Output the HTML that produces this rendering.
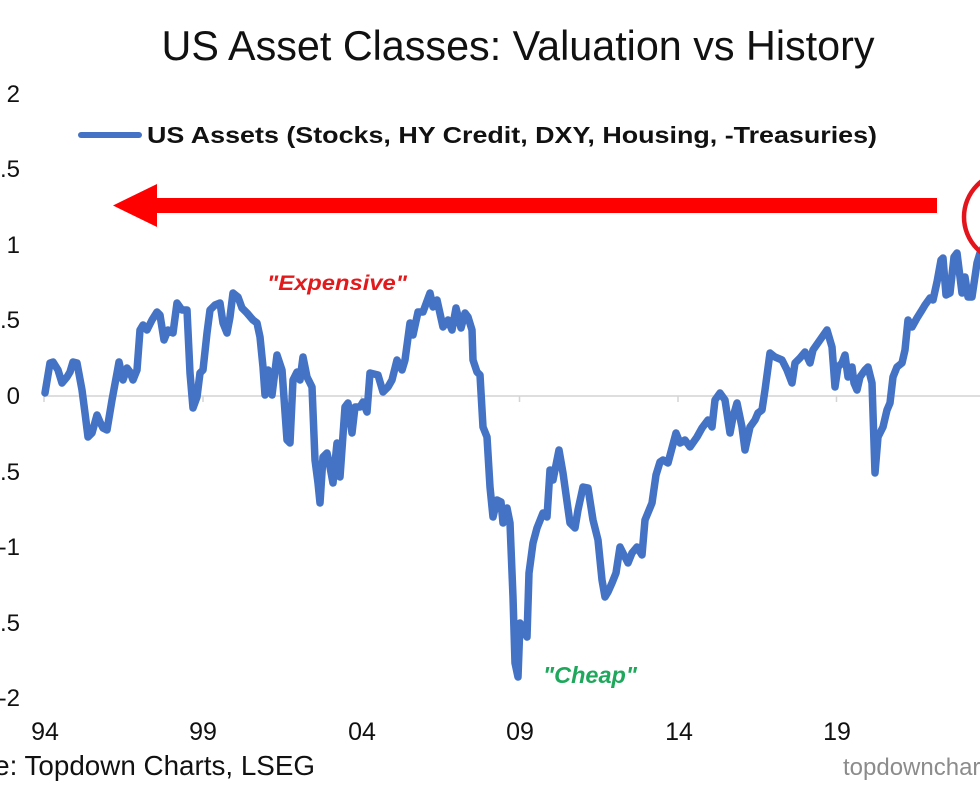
<!DOCTYPE html>
<html>
<head>
<meta charset="utf-8">
<style>
html,body{margin:0;padding:0;background:#fff;}
body{width:980px;height:810px;overflow:hidden;}
svg{display:block;}
text{font-family:"Liberation Sans",Arial,sans-serif;}
</style>
</head>
<body>
<svg width="980" height="810" viewBox="0 0 980 810" xmlns="http://www.w3.org/2000/svg">
<rect width="980" height="810" fill="#fff"/>
<!-- Title -->
<text x="518" y="60" font-size="42" fill="#111" text-anchor="middle" textLength="713" lengthAdjust="spacingAndGlyphs">US Asset Classes: Valuation vs History</text>
<!-- Legend -->
<line x1="81" y1="135" x2="139" y2="135" stroke="#4472c4" stroke-width="6" stroke-linecap="round"/>
<text x="147" y="143" font-size="23" font-weight="bold" fill="#111" textLength="730" lengthAdjust="spacingAndGlyphs">US Assets (Stocks, HY Credit, DXY, Housing, -Treasuries)</text>
<!-- Y labels -->
<g font-size="24" fill="#111" text-anchor="end">
<text x="20" y="102">2</text>
<text x="20" y="177">1.5</text>
<text x="20" y="253">1</text>
<text x="20" y="328">0.5</text>
<text x="20" y="404">0</text>
<text x="20" y="480">-0.5</text>
<text x="20" y="555">-1</text>
<text x="20" y="631">-1.5</text>
<text x="20" y="706">-2</text>
</g>
<!-- zero line + ticks -->
<line x1="44" y1="396" x2="980" y2="396" stroke="#d4d4d4" stroke-width="1.5"/>
<g stroke="#d4d4d4" stroke-width="1.5">
<line x1="44" y1="396" x2="44" y2="402"/>
<line x1="203" y1="396" x2="203" y2="402"/>
<line x1="361.5" y1="396" x2="361.5" y2="402"/>
<line x1="519.5" y1="396" x2="519.5" y2="402"/>
<line x1="678" y1="396" x2="678" y2="402"/>
<line x1="836.5" y1="396" x2="836.5" y2="402"/>
</g>
<!-- X labels -->
<g font-size="25" fill="#111" text-anchor="middle">
<text x="45" y="740">94</text>
<text x="203" y="740">99</text>
<text x="362" y="740">04</text>
<text x="520" y="740">09</text>
<text x="679" y="740">14</text>
<text x="837" y="740">19</text>
</g>
<!-- Series -->
<polyline fill="none" stroke="#4472c4" stroke-width="7.5" stroke-linejoin="round" stroke-linecap="round" points="45,393 50,363 53,362 58,370 62,383 67,377 70,372 73,362 77,363 82,390 85,413 88,437 92,433 97,415 100,422 103,428 107,430 112,400 117,373 119,362 123,380 127,368 130,372 133,380 137,370 140,330 143,325 147,330 152,320 157,312 160,315 164,340 168,330 173,333 177,303 182,310 187,310 190,373 193,408 197,397 200,373 203,370 207,333 210,310 215,305 220,303 223,323 227,333 230,317 233,293 238,297 242,308 247,313 253,320 257,323 260,337 263,367 265,395 268,370 272,395 277,355 282,370 287,440 290,443 293,380 297,372 300,380 303,357 307,377 312,387 315,460 318,483 320,503 323,457 327,453 330,467 333,483 337,443 340,477 345,407 348,403 352,433 355,407 360,407 363,402 367,412 370,373 378,375 383,392 388,387 392,380 397,360 402,370 405,360 410,323 413,335 418,312 423,312 430,293 433,307 437,300 443,327 448,320 452,330 456,308 461,328 465,313 468,317 472,330 473,360 477,372 480,375 483,427 487,437 490,487 493,517 497,500 501,502 503,523 507,508 510,523 513,597 515,663 518,677 520,623 523,627 527,637 529,573 533,543 537,528 543,513 547,517 550,470 553,480 559,450 563,473 570,523 575,528 578,510 583,487 588,488 593,520 598,540 602,580 605,597 608,592 612,583 616,573 620,547 623,553 628,563 632,553 637,547 642,555 645,520 652,503 656,475 660,462 663,460 668,463 676,433 680,443 685,440 690,447 697,437 702,428 708,420 712,427 715,400 720,393 725,400 730,433 733,417 737,403 742,427 745,450 750,427 755,420 758,413 762,410 765,390 770,353 775,357 782,360 787,370 792,383 795,363 800,358 805,352 810,363 813,350 820,340 827,330 832,347 835,387 838,367 842,363 845,355 848,377 852,367 854,383 857,390 860,377 865,370 868,367 872,383 875,473 878,437 883,427 887,410 890,403 893,377 897,367 902,363 905,350 908,320 912,327 917,318 922,310 925,305 930,298 933,300 937,282 941,260 943,258 946,295 950,293 954,257 957,253 962,293 965,277 968,297 972,297 977,263 980,253 985,245"/>
<!-- Red arrow -->
<rect x="155" y="198" width="782" height="15" fill="#ff0000"/>
<polygon points="113,205.5 157,184 157,227" fill="#ff0000"/>
<!-- Red circle -->
<circle cx="1009" cy="217" r="45" fill="none" stroke="#e3141b" stroke-width="4.5"/>
<!-- Annotations -->
<text x="267" y="290" font-size="21" font-weight="bold" font-style="italic" fill="#e31a1c" textLength="140" lengthAdjust="spacingAndGlyphs">"Expensive"</text>
<text x="543" y="683" font-size="23" font-weight="bold" font-style="italic" fill="#1fa85c" textLength="94" lengthAdjust="spacingAndGlyphs">"Cheap"</text>
<!-- Source -->
<text x="315" y="775" font-size="27.8" fill="#111" text-anchor="end">Source: Topdown Charts, LSEG</text>
<text x="843" y="775" font-size="24" fill="#8c8c8c">topdowncharts.com</text>
</svg>
</body>
</html>
